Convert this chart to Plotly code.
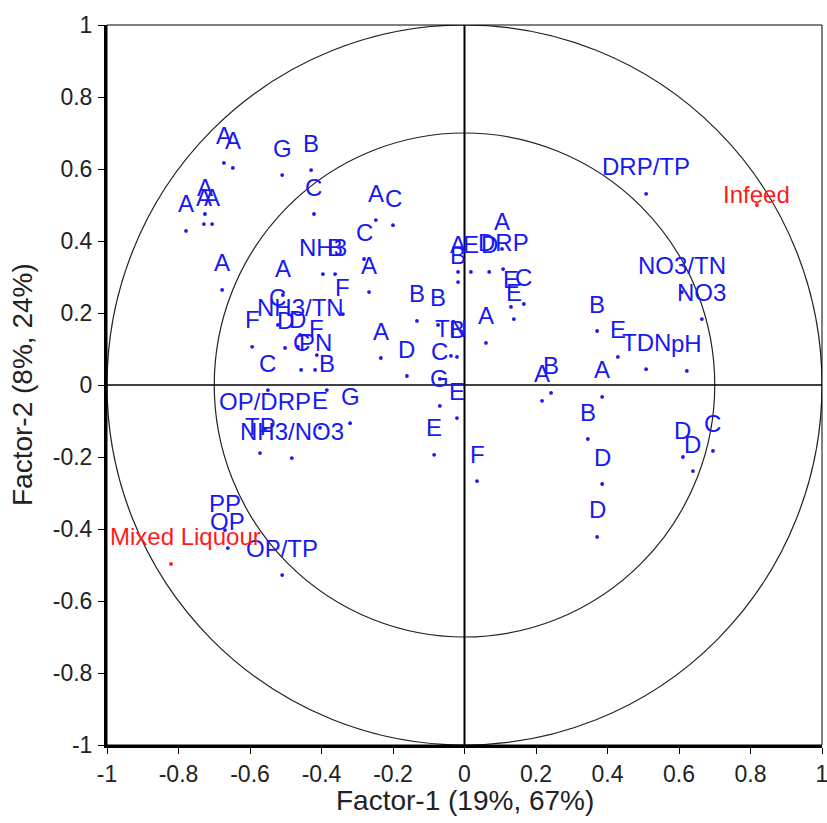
import plotly.graph_objects as go

# Variable loadings / sample scores (Factor-1, Factor-2)
labels = ["A", "A", "G", "B", "C", "A", "A", "A", "A", "A",
          "NH3", "B", "A", "F", "A", "C", "C", "A", "A", "B",
          "E", "D", "DRP", "A", "E", "C", "E", "A", "B", "B",
          "TN", "B", "C", "G", "E", "E", "F", "D", "A", "A",
          "B", "B", "E", "TDN", "pH", "A", "B", "D", "D", "D",
          "D", "C", "DRP/TP", "NO3/TN", "NO3", "F", "NH3/TN", "C", "D", "D",
          "F", "C", "PN", "B", "C", "OP/DRP", "E", "G", "NH3/NO3", "TP",
          "PP", "OP", "OP/TP"]
f1 = [-0.673, -0.648, -0.510, -0.429, -0.421, -0.779, -0.726, -0.729, -0.706, -0.678,
      -0.396, -0.362, -0.508, -0.340, -0.248, -0.200, -0.281, -0.267, -0.018, -0.018,
      0.018, 0.069, 0.108, 0.105, 0.130, 0.166, 0.138, 0.060, -0.133, -0.074,
      -0.038, -0.021, -0.069, -0.069, -0.021, -0.085, 0.035, -0.161, -0.234, 0.217,
      0.242, 0.371, 0.429, 0.508, 0.622, 0.385, 0.345, 0.385, 0.371, 0.611,
      0.639, 0.695, 0.508, 0.608, 0.664, -0.594, -0.460, -0.522, -0.502, -0.466,
      -0.413, -0.457, -0.418, -0.385, -0.550, -0.558, -0.404, -0.320, -0.483, -0.572,
      -0.670, -0.662, -0.510]
f2 = [0.617, 0.603, 0.583, 0.597, 0.475, 0.428, 0.475, 0.447, 0.447, 0.264,
      0.308, 0.308, 0.250, 0.197, 0.458, 0.444, 0.350, 0.258, 0.314, 0.286,
      0.314, 0.314, 0.322, 0.378, 0.217, 0.225, 0.183, 0.117, 0.178, 0.167,
      0.081, 0.078, 0.017, -0.058, -0.092, -0.194, -0.267, 0.025, 0.075, -0.044,
      -0.022, 0.150, 0.078, 0.044, 0.039, -0.033, -0.150, -0.275, -0.422, -0.200,
      -0.239, -0.183, 0.531, 0.258, 0.183, 0.106, 0.139, 0.167, 0.103, 0.106,
      0.083, 0.042, 0.042, -0.014, -0.014, -0.122, -0.119, -0.106, -0.203, -0.189,
      -0.403, -0.453, -0.528]

# Supplementary points (red)
sup_labels = ["Infeed", "Mixed Liquour"]
sup_f1 = [0.818, -0.821]
sup_f2 = [0.500, -0.497]

tick_vals = [-1, -0.8, -0.6, -0.4, -0.2, 0, 0.2, 0.4, 0.6, 0.8, 1]
tick_text = ["-1", "-0.8", "-0.6", "-0.4", "-0.2", "0", "0.2", "0.4", "0.6", "0.8", "1"]

x_title = "Factor-1 (19%, 67%)"
y_title = "Factor-2 (8%, 24%)"

BLUE = "#1818f2"
RED = "#ff1a1a"
FONT = "Liberation Sans, Arial, sans-serif"

fig = go.Figure()
fig.add_trace(go.Scatter(x=f1, y=f2, mode="markers",
                         marker=dict(color=BLUE, size=3.8), hoverinfo="skip",
                         showlegend=False))
fig.add_trace(go.Scatter(x=sup_f1, y=sup_f2, mode="markers",
                         marker=dict(color=RED, size=3.8), hoverinfo="skip",
                         showlegend=False))

annotations = []
for t, x, y in zip(labels, f1, f2):
    annotations.append(dict(x=x, y=y, xref="x", yref="y", text=t, showarrow=False,
                            xanchor="center", yanchor="middle",
                            yshift=27, font=dict(family=FONT, size=24, color=BLUE)))
sup_shift = [(0, 11), (15, 27)]
for (t, x, y), (dx, dy) in zip(zip(sup_labels, sup_f1, sup_f2), sup_shift):
    annotations.append(dict(x=x, y=y, xref="x", yref="y", text=t, showarrow=False,
                            xanchor="center", yanchor="middle",
                            xshift=dx, yshift=dy,
                            font=dict(family=FONT, size=24, color=RED)))

# axis titles
annotations.append(dict(x=0.5, y=0, xref="paper", yref="paper", text=x_title,
                        showarrow=False, xanchor="center", yanchor="middle", yshift=-55,
                        font=dict(family=FONT, size=28, color="#222")))
annotations.append(dict(x=0, y=0.5, xref="paper", yref="paper", text=y_title,
                        showarrow=False, xanchor="center", yanchor="middle",
                        xshift=-85, textangle=-90,
                        font=dict(family=FONT, size=28, color="#222")))

shapes = [
    dict(type="circle", xref="x", yref="y", x0=-1, y0=-1, x1=1, y1=1,
         line=dict(color="#222", width=1.2), layer="below"),
    dict(type="circle", xref="x", yref="y", x0=-0.7, y0=-0.7, x1=0.7, y1=0.7,
         line=dict(color="#222", width=1.2), layer="below"),
    dict(type="line", xref="x", yref="y", x0=0, y0=-1, x1=0, y1=1,
         line=dict(color="black", width=2), layer="below"),
    dict(type="line", xref="x", yref="y", x0=-1, y0=0, x1=1, y1=0,
         line=dict(color="black", width=1.3), layer="below"),
    dict(type="rect", xref="paper", yref="paper", x0=0, y0=0, x1=1, y1=1,
         line=dict(color="black", width=1), layer="above"),
]

axis_common = dict(range=[-1, 1], tickvals=tick_vals, ticktext=tick_text,
                   showgrid=False, zeroline=False, ticks="outside", ticklen=6,
                   tickcolor="black", showline=True, linecolor="black", linewidth=3,
                   automargin=False, ticklabeloverflow="allow",
                   tickfont=dict(family=FONT, size=23, color="#222"))

fig.update_layout(
    width=827, height=823,
    margin=dict(l=107, r=5, t=25, b=78),
    plot_bgcolor="white", paper_bgcolor="white",
    xaxis=dict(**axis_common, ticklabelstandoff=0),
    yaxis=dict(**axis_common, ticklabelstandoff=1),
    annotations=annotations,
    shapes=shapes,
)

# remove the page's default body margin so the figure fills the window exactly
fig.write_html("out.html",
               config={"displayModeBar": False},
               post_script="document.body.style.margin='0';"
                           "document.body.style.overflow='hidden';")
